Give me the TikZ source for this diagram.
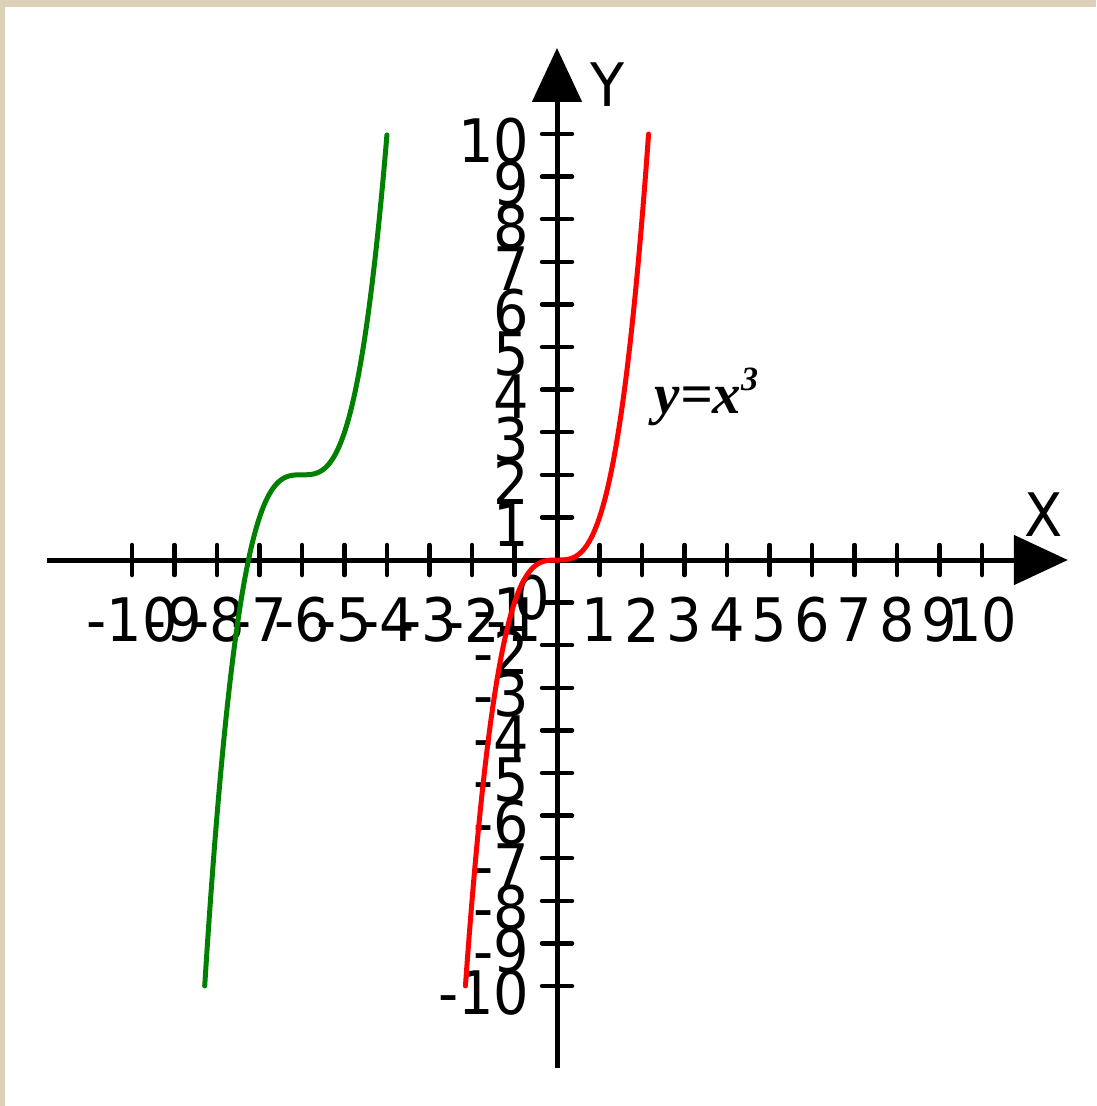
\documentclass[tikz,border=0pt]{standalone}
\usepackage{fontspec}
\newfontfamily\labfont{DejaVu Sans}[FakeStretch=0.93]
\newfontfamily\tnrfont{Liberation Serif}
\usetikzlibrary{arrows.meta}
\definecolor{bord}{HTML}{DDD0B8}
\definecolor{curvegreen}{HTML}{008000}
\definecolor{curvered}{HTML}{FF0000}
\tikzset{
  lab/.style={font=\labfont\fontsize{60}{60}\selectfont, inner sep=0pt},
  axisline/.style={line width=5pt, -{Triangle[length=54pt,width=49pt]}},
  tickline/.style={line width=4.5pt, line cap=round},
  curve/.style={line width=5pt, line join=round, line cap=round},
}
\begin{document}
\begin{tikzpicture}[x=1pt,y=-1pt]
\useasboundingbox (0,0) rectangle (1096,1106);
\fill[bord] (0,0) rectangle (1096,1106);
\fill[white] (5,7) rectangle (1096,1106);
\begin{scope}[shift={(557,560)}, x=42.5pt, y=42.6pt]
  \coordinate (xs) at (-12,0);
  \coordinate (xe) at (12.02,0);
  \coordinate (ys) at (0,-11.92);
  \coordinate (ye) at (0,12.02);
  \draw[axisline] (xs) -- (xe);
  \draw[axisline] (ys) -- (ye);
  \foreach \k [count=\i] in {-10,-9,-8,-7,-6,-5,-4,-3,-2,-1,1,2,3,4,5,6,7,8,9,10} {
    \draw[tickline] (\k,-0.352) -- (\k,0.352);
    \draw[tickline] (-0.353,\k) -- (0.353,\k);
    \node[lab] (xl\i) at (\k,-1.41) {\k};
    \node[lab,anchor=east,yshift=-7pt] (yl\i) at (-0.65,\k) {\k};
  }
  \node[lab] (zero) at (-0.59,-0.89) {0};
  \node[lab] (ylab) at (1.2,11.17) {Y};
  \node[lab] (xlab) at (11.44,1.06) {X};
  \draw[curve, curvered] plot[domain=-2.1544:2.1544, samples=200, smooth] (\x,{\x*\x*\x});
  \draw[curve, curvegreen] plot[domain=-8.2894:-4, samples=200, smooth] (\x,{(\x+6)*(\x+6)*(\x+6)+2});
  \node[anchor=base west, inner sep=0pt, font=\tnrfont\bfseries\itshape\fontsize{57}{57}\selectfont] (eq) at (2.3,3.45) {y=x{\fontsize{34}{34}\selectfont\raisebox{23pt}{3}}};
\end{scope}
\end{tikzpicture}
\end{document}
